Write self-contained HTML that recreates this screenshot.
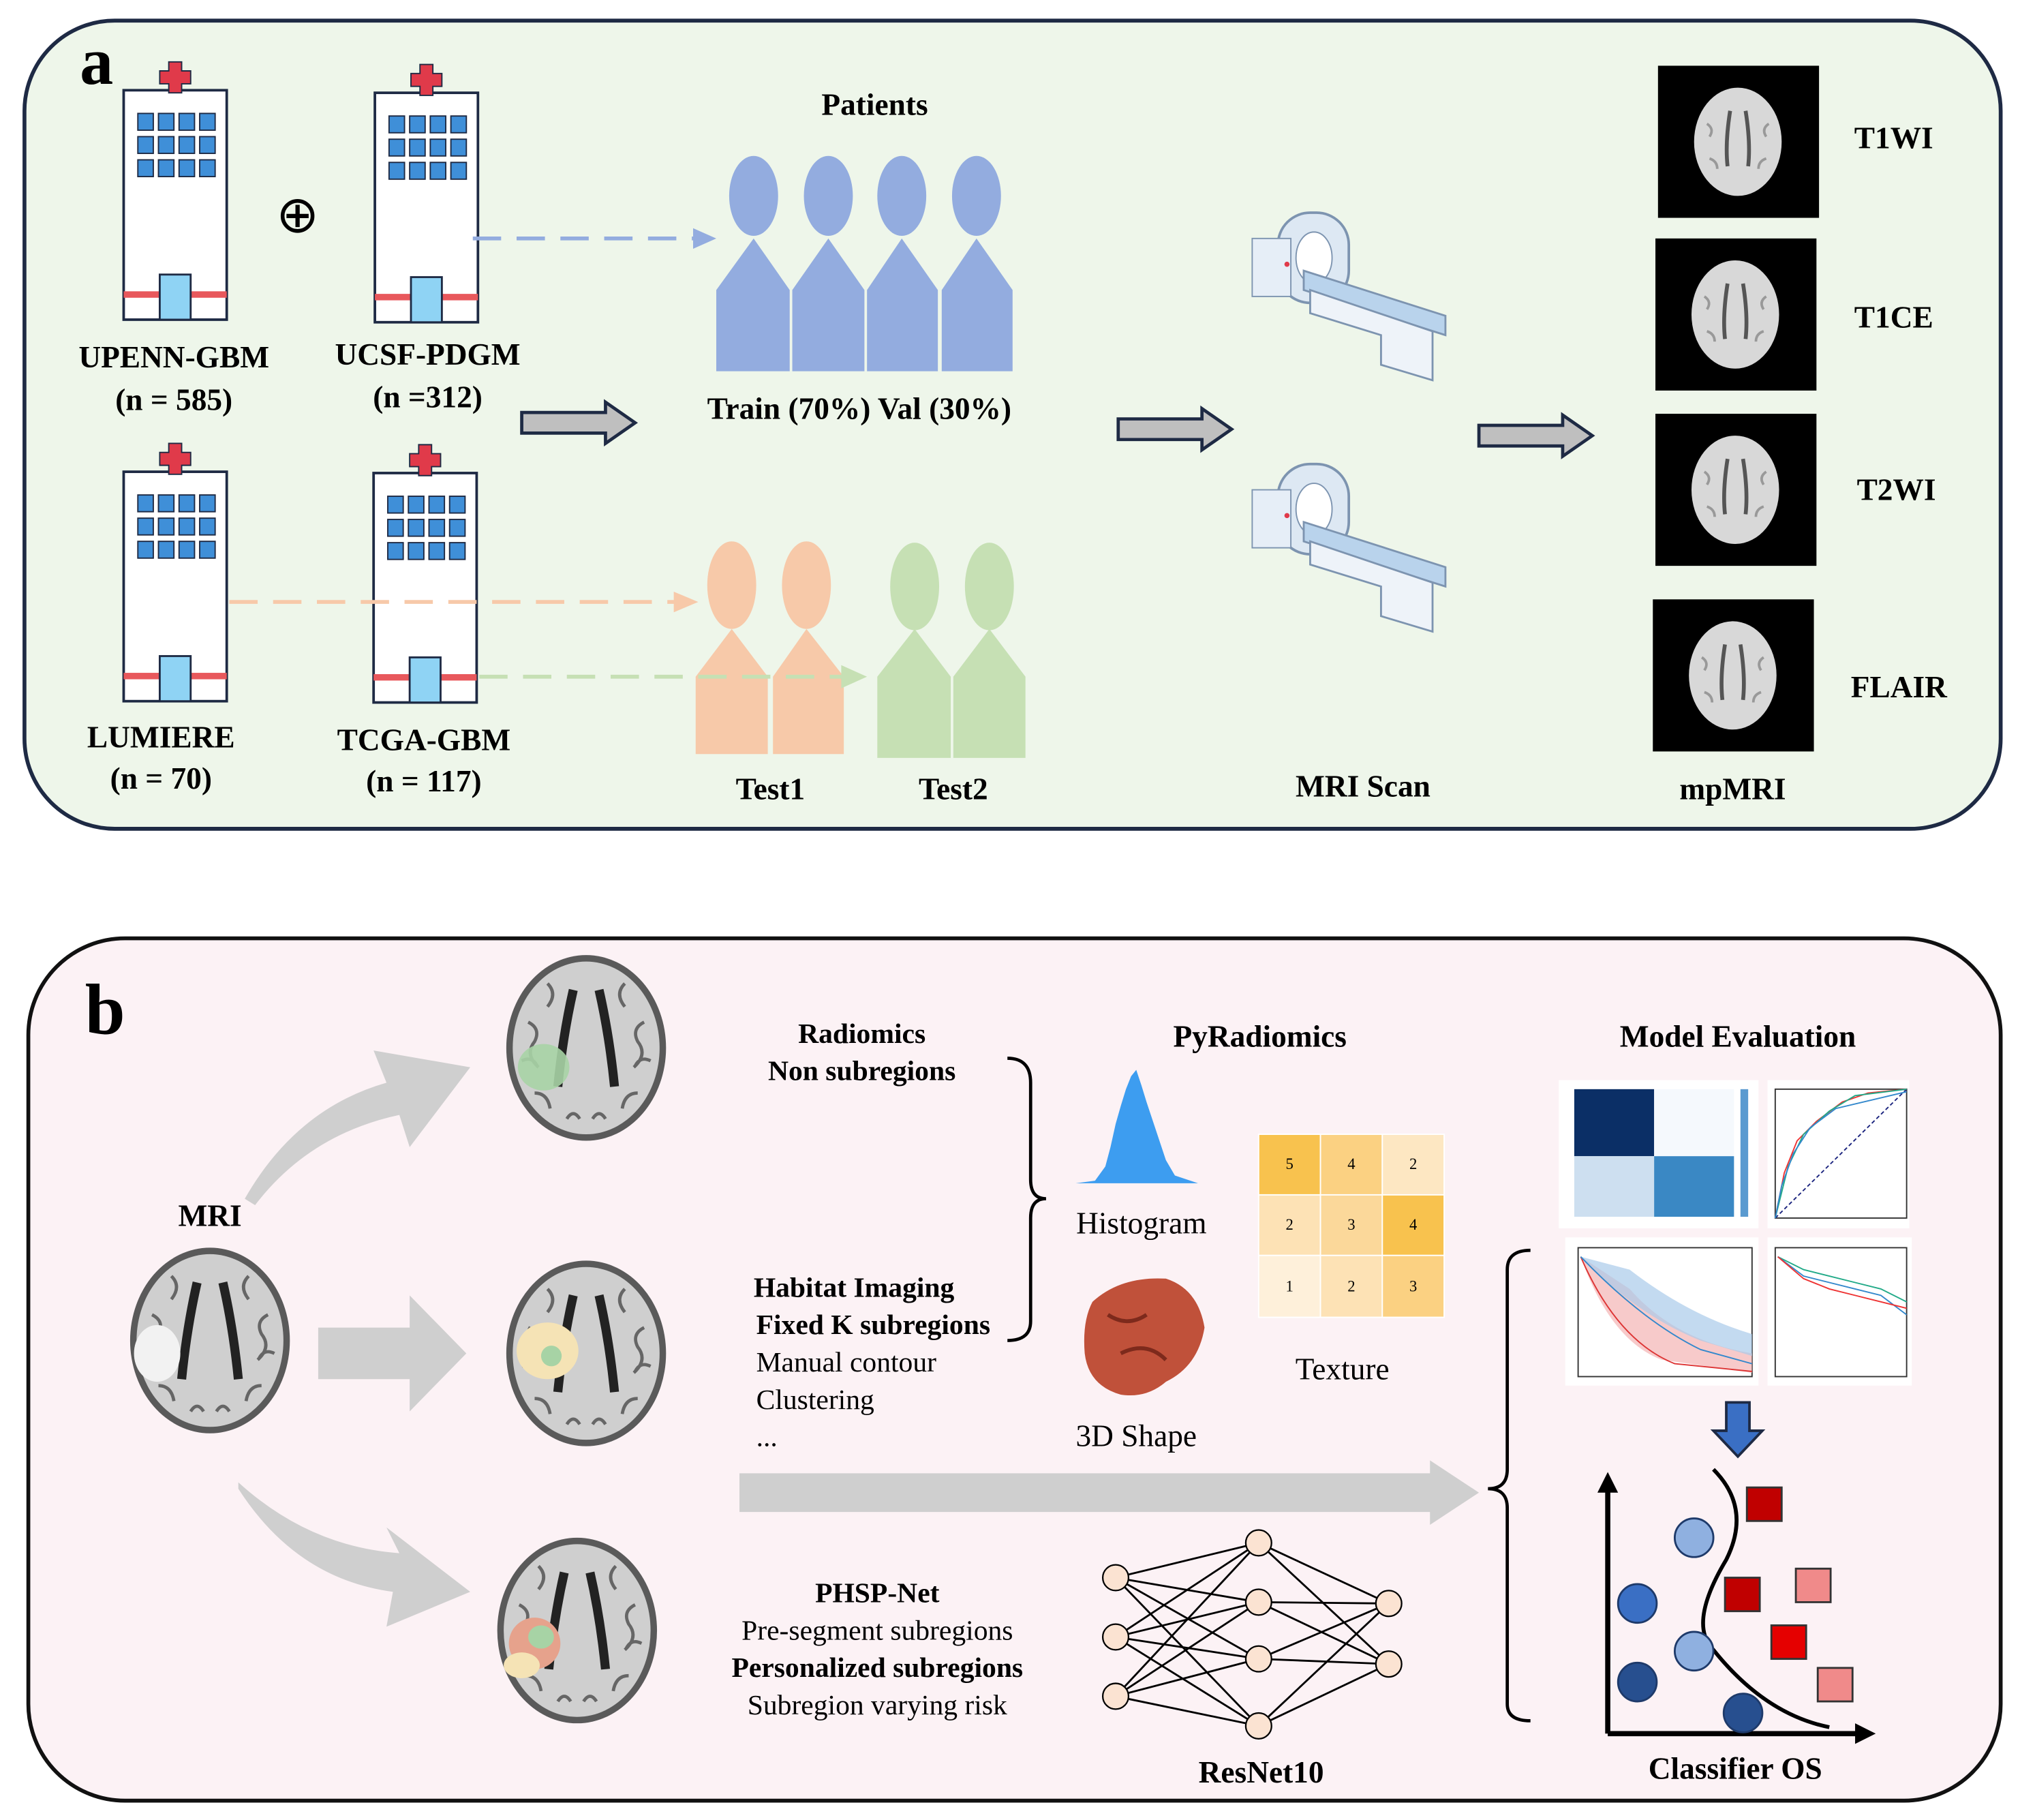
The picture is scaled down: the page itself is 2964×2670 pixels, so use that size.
<!DOCTYPE html>
<html><head><meta charset="utf-8"><style>
html,body{margin:0;padding:0;background:#fff}
svg{display:block}
text{font-family:"Liberation Serif",serif;fill:#000}
.b{font-weight:bold}
</style></head><body>
<svg width="2964" height="2670" viewBox="0 0 1568 1412" preserveAspectRatio="none" xmlns="http://www.w3.org/2000/svg">
<defs>
<g id="hosp">
 <rect x="0" y="0" width="80" height="178" fill="#fff" stroke="#1e2a44" stroke-width="2"/>
 <g fill="#3f8fd8" stroke="#1e2a44" stroke-width="1">
  <rect x="11" y="18" width="12" height="13"/><rect x="27" y="18" width="12" height="13"/><rect x="43" y="18" width="12" height="13"/><rect x="59" y="18" width="12" height="13"/>
  <rect x="11" y="36" width="12" height="13"/><rect x="27" y="36" width="12" height="13"/><rect x="43" y="36" width="12" height="13"/><rect x="59" y="36" width="12" height="13"/>
  <rect x="11" y="54" width="12" height="13"/><rect x="27" y="54" width="12" height="13"/><rect x="43" y="54" width="12" height="13"/><rect x="59" y="54" width="12" height="13"/>
 </g>
 <rect x="0" y="156" width="80" height="5" fill="#e8585c"/>
 <rect x="28" y="143" width="24" height="35" fill="#8fd3f4" stroke="#1e2a44" stroke-width="1.5"/>
 <g fill="#e03a4a" stroke="#1e2a44" stroke-width="1"><path d="M35 -22h10v7h7v10h-7v7h-10v-7h-7v-10h7z"/></g>
</g>
<g id="scanner">
 <rect x="20" y="0" width="55" height="70" rx="25" fill="#dde8f3" stroke="#7d94b0" stroke-width="2"/>
 <ellipse cx="48" cy="35" rx="14" ry="20" fill="#fff" stroke="#7d94b0"/>
 <rect x="0" y="20" width="30" height="45" fill="#e6eef7" stroke="#7d94b0"/>
 <path d="M40 45 L150 80 L150 95 L40 60 Z" fill="#b9d3ec" stroke="#7d94b0" stroke-width="1.5"/>
 <path d="M45 60 L140 92 L140 130 L100 118 L100 95 L45 78 Z" fill="#eef3f9" stroke="#7d94b0" stroke-width="1.5"/>
 <circle cx="27" cy="40" r="2" fill="#e03a4a"/>
</g>
<g id="brain">
 <ellipse cx="0" cy="0" rx="62" ry="72" fill="#5a5a5a"/>
 <ellipse cx="0" cy="0" rx="57" ry="67" fill="#cfcfcf"/>
 <path d="M-10 -45 Q-18 -10 -22 30 M10 -45 Q18 -10 22 30" stroke="#222" stroke-width="7" fill="none"/>
 <path d="M-45 -20 q10 5 5 15 q-8 10 3 20 M45 -20 q-10 5 -5 15 q8 10 -3 20 M-30 -50 q8 8 0 18 M30 -50 q-8 8 0 18 M-40 35 q10 0 12 12 M40 35 q-10 0 -12 12 M-50 10 q8 -4 12 4 M50 10 q-8 -4 -12 4 M-15 55 q5 -8 10 0 M15 55 q-5 -8 -10 0" stroke="#666" stroke-width="2.5" fill="none"/>
</g>
<g id="mr">
 <rect x="0" y="0" width="125" height="118" fill="#000"/>
 <ellipse cx="62" cy="59" rx="34" ry="42" fill="#d8d8d8"/>
 <path d="M56 35 Q52 60 54 78 M68 35 Q72 60 70 78" stroke="#555" stroke-width="3" fill="none"/>
 <path d="M38 45 q6 4 2 10 M86 45 q-6 4 -2 10 M40 72 q6 2 6 8 M84 72 q-6 2 -6 8" stroke="#999" stroke-width="2" fill="none"/>
</g>
<g id="blkarrow">
 <path d="M0 -8 H65 V-16 L88 0 L65 16 V8 H0 Z" fill="#bfbfbf" stroke="#1e2a44" stroke-width="2.5"/>
</g>
</defs>

<!-- Panel a -->
<rect x="19" y="16" width="1534" height="627" rx="70" fill="#eef6ea" stroke="#1e2a44" stroke-width="3"/>
<text x="62" y="65" class="b" font-size="52">a</text>
<use href="#hosp" x="96" y="70"/>
<use href="#hosp" x="291" y="72"/>
<use href="#hosp" x="96" y="366"/>
<use href="#hosp" x="290" y="367"/>
<text x="231" y="180" font-size="40" text-anchor="middle">⊕</text>
<text x="135" y="285" class="b" font-size="24" text-anchor="middle">UPENN-GBM</text>
<text x="135" y="318" class="b" font-size="24" text-anchor="middle">(n = 585)</text>
<text x="332" y="283" class="b" font-size="24" text-anchor="middle">UCSF-PDGM</text>
<text x="332" y="316" class="b" font-size="24" text-anchor="middle">(n =312)</text>
<text x="125" y="580" class="b" font-size="24" text-anchor="middle">LUMIERE</text>
<text x="125" y="612" class="b" font-size="24" text-anchor="middle">(n = 70)</text>
<text x="329" y="582" class="b" font-size="24" text-anchor="middle">TCGA-GBM</text>
<text x="329" y="614" class="b" font-size="24" text-anchor="middle">(n = 117)</text>

<text x="679" y="89" class="b" font-size="24" text-anchor="middle">Patients</text>
<g fill="#93acdf">
 <ellipse cx="585" cy="152" rx="19" ry="31"/><ellipse cx="643" cy="152" rx="19" ry="31"/><ellipse cx="700" cy="152" rx="19" ry="31"/><ellipse cx="758" cy="152" rx="19" ry="31"/>
 <path d="M556 288 V225 L585 185 L613 225 V288 Z"/><path d="M615 288 V225 L643 185 L671 225 V288 Z"/><path d="M673 288 V225 L700 185 L728 225 V288 Z"/><path d="M731 288 V225 L758 185 L786 225 V288 Z"/>
</g>
<g fill="#f7c9a9">
 <ellipse cx="568" cy="454" rx="19" ry="34"/><ellipse cx="626" cy="454" rx="19" ry="34"/>
 <path d="M540 585 V525 L568 488 L596 525 V585 Z"/><path d="M600 585 V525 L626 488 L655 525 V585 Z"/>
</g>
<g fill="#c6e0b4">
 <ellipse cx="710" cy="455" rx="19" ry="34"/><ellipse cx="768" cy="455" rx="19" ry="34"/>
 <path d="M681 588 V525 L710 488 L738 525 V588 Z"/><path d="M740 588 V525 L768 488 L796 525 V588 Z"/>
</g>
<text x="598" y="620" class="b" font-size="24" text-anchor="middle">Test1</text>
<text x="740" y="620" class="b" font-size="24" text-anchor="middle">Test2</text>
<text x="667" y="325" class="b" font-size="24" text-anchor="middle">Train (70%) Val (30%)</text>

<g stroke-width="3" fill="none" stroke-dasharray="22 12">
 <line x1="367" y1="185" x2="538" y2="185" stroke="#93acdf"/>
 <line x1="178" y1="467" x2="525" y2="467" stroke="#f7c9a9"/>
 <line x1="372" y1="525" x2="655" y2="525" stroke="#c6e0b4"/>
</g>
<path d="M538 177 L556 185 L538 193 Z" fill="#93acdf"/>
<path d="M523 459 L542 467 L523 475 Z" fill="#f7c9a9"/>
<path d="M653 516 L673 525 L653 534 Z" fill="#c6e0b4"/>

<use href="#blkarrow" x="405" y="328"/>
<use href="#blkarrow" x="868" y="333"/>
<use href="#blkarrow" x="1148" y="338"/>

<use href="#scanner" x="972" y="165"/>
<use href="#scanner" x="972" y="360"/>
<text x="1058" y="618" class="b" font-size="24" text-anchor="middle">MRI Scan</text>

<use href="#mr" x="1287" y="51"/>
<use href="#mr" x="1285" y="185"/>
<use href="#mr" x="1285" y="321"/>
<use href="#mr" x="1283" y="465"/>
<text x="1470" y="115" class="b" font-size="24" text-anchor="middle">T1WI</text>
<text x="1470" y="254" class="b" font-size="24" text-anchor="middle">T1CE</text>
<text x="1472" y="388" class="b" font-size="24" text-anchor="middle">T2WI</text>
<text x="1474" y="541" class="b" font-size="24" text-anchor="middle">FLAIR</text>
<text x="1345" y="620" class="b" font-size="24" text-anchor="middle">mpMRI</text>

<!-- Panel b -->
<rect x="22" y="728" width="1531" height="669" rx="75" fill="#fcf2f5" stroke="#111" stroke-width="3"/>
<text x="66" y="802" class="b" font-size="56">b</text>
<text x="163" y="951" class="b" font-size="24" text-anchor="middle">MRI</text>
<use href="#brain" x="163" y="1040"/>
<ellipse cx="122" cy="1050" rx="18" ry="22" fill="#f2f2f2"/>
<use href="#brain" x="455" y="813"/>
<ellipse cx="422" cy="828" rx="20" ry="18" fill="#a7d3a5" opacity=".9"/>
<use href="#brain" x="455" y="1050"/>
<ellipse cx="425" cy="1048" rx="24" ry="22" fill="#f5e3b5"/>
<ellipse cx="428" cy="1052" rx="8" ry="8" fill="#a7d3a5"/>
<use href="#brain" x="448" y="1265"/>
<ellipse cx="415" cy="1275" rx="20" ry="20" fill="#e6a28c"/>
<ellipse cx="420" cy="1270" rx="10" ry="9" fill="#a7d3a5"/>
<ellipse cx="405" cy="1292" rx="14" ry="10" fill="#f5e3b5"/>

<!-- gray arrows -->
<path d="M190 930 Q230 860 300 840 L290 815 L365 828 L318 890 L310 865 Q240 880 198 935 Z" fill="#cfcfcf"/>
<path d="M247 1030 H318 V1005 L362 1050 L318 1095 V1070 H247 Z" fill="#cfcfcf"/>
<path d="M185 1150 Q240 1200 310 1205 L300 1185 L365 1235 L300 1262 L305 1235 Q230 1225 185 1155 Z" fill="#cfcfcf"/>
<path d="M574 1143 H1110 V1133 L1148 1158 L1110 1183 V1173 H574 Z" fill="#cfcfcf"/>

<text x="669" y="809" class="b" font-size="22" text-anchor="middle">Radiomics</text>
<text x="669" y="838" class="b" font-size="22" text-anchor="middle">Non subregions</text>
<path d="M782 821 Q800 821 800 840 V915 Q800 930 812 930 Q800 930 800 945 V1025 Q800 1040 782 1040" stroke="#000" stroke-width="2.5" fill="none"/>
<text x="585" y="1006" class="b" font-size="22">Habitat Imaging</text>
<text x="587" y="1035" class="b" font-size="22">Fixed K subregions</text>
<text x="587" y="1064" font-size="22">Manual contour</text>
<text x="587" y="1093" font-size="22">Clustering</text>
<text x="587" y="1122" font-size="22">...</text>

<text x="978" y="812" class="b" font-size="24" text-anchor="middle">PyRadiomics</text>
<g fill="#3d9df0">
 <path d="M835 918 L850 916 L858 905 L862 890 L866 872 L870 858 L874 845 L878 835 L882 830 L886 842 L890 855 L895 870 L900 885 L905 900 L912 912 L930 918 Z"/>
</g>
<text x="886" y="957" font-size="24" text-anchor="middle">Histogram</text>
<g stroke="#fff" stroke-width="1">
 <rect x="977" y="880" width="48" height="47" fill="#f8c24e"/>
 <rect x="1025" y="880" width="48" height="47" fill="#fbd182"/>
 <rect x="1073" y="880" width="48" height="47" fill="#fde7c2"/>
 <rect x="977" y="927" width="48" height="47" fill="#fde2b5"/>
 <rect x="1025" y="927" width="48" height="47" fill="#fbd89a"/>
 <rect x="1073" y="927" width="48" height="47" fill="#f8c24e"/>
 <rect x="977" y="974" width="48" height="48" fill="#fef0da"/>
 <rect x="1025" y="974" width="48" height="48" fill="#fde2b5"/>
 <rect x="1073" y="974" width="48" height="48" fill="#fbd182"/>
</g>
<g font-size="12" text-anchor="middle">
 <text x="1001" y="907" font-family="Liberation Sans,sans-serif">5</text><text x="1049" y="907" font-family="Liberation Sans,sans-serif">4</text><text x="1097" y="907" font-family="Liberation Sans,sans-serif">2</text>
 <text x="1001" y="954" font-family="Liberation Sans,sans-serif">2</text><text x="1049" y="954" font-family="Liberation Sans,sans-serif">3</text><text x="1097" y="954" font-family="Liberation Sans,sans-serif">4</text>
 <text x="1001" y="1002" font-family="Liberation Sans,sans-serif">1</text><text x="1049" y="1002" font-family="Liberation Sans,sans-serif">2</text><text x="1097" y="1002" font-family="Liberation Sans,sans-serif">3</text>
</g>
<text x="1042" y="1070" font-size="24" text-anchor="middle">Texture</text>
<path d="M848 1010 Q870 990 905 992 Q930 1000 935 1030 Q930 1060 905 1072 Q890 1085 870 1082 Q845 1075 842 1050 Q840 1025 848 1010 Z" fill="#c0513a"/>
<path d="M860 1020 q15 10 30 0 M870 1050 q20 -10 35 5" stroke="#7d2a1c" stroke-width="3" fill="none"/>
<text x="882" y="1122" font-size="24" text-anchor="middle">3D Shape</text>

<text x="681" y="1243" class="b" font-size="22" text-anchor="middle">PHSP-Net</text>
<text x="681" y="1272" font-size="22" text-anchor="middle">Pre-segment subregions</text>
<text x="681" y="1301" class="b" font-size="22" text-anchor="middle">Personalized subregions</text>
<text x="681" y="1330" font-size="22" text-anchor="middle">Subregion varying risk</text>

<g stroke="#000" stroke-width="1.5">
 <line x1="866" y1="1224" x2="977" y2="1197"/><line x1="866" y1="1224" x2="977" y2="1243"/><line x1="866" y1="1224" x2="977" y2="1287"/><line x1="866" y1="1224" x2="977" y2="1339"/>
 <line x1="866" y1="1270" x2="977" y2="1197"/><line x1="866" y1="1270" x2="977" y2="1243"/><line x1="866" y1="1270" x2="977" y2="1287"/><line x1="866" y1="1270" x2="977" y2="1339"/>
 <line x1="866" y1="1316" x2="977" y2="1197"/><line x1="866" y1="1316" x2="977" y2="1243"/><line x1="866" y1="1316" x2="977" y2="1287"/><line x1="866" y1="1316" x2="977" y2="1339"/>
 <line x1="977" y1="1197" x2="1078" y2="1244"/><line x1="977" y1="1197" x2="1078" y2="1291"/>
 <line x1="977" y1="1243" x2="1078" y2="1244"/><line x1="977" y1="1243" x2="1078" y2="1291"/>
 <line x1="977" y1="1287" x2="1078" y2="1244"/><line x1="977" y1="1287" x2="1078" y2="1291"/>
 <line x1="977" y1="1339" x2="1078" y2="1244"/><line x1="977" y1="1339" x2="1078" y2="1291"/>
</g>
<g fill="#fbe3d2" stroke="#000" stroke-width="1.2">
 <circle cx="866" cy="1224" r="10"/><circle cx="866" cy="1270" r="10"/><circle cx="866" cy="1316" r="10"/>
 <circle cx="977" cy="1197" r="10"/><circle cx="977" cy="1243" r="10"/><circle cx="977" cy="1287" r="10"/><circle cx="977" cy="1339" r="10"/>
 <circle cx="1078" cy="1244" r="10"/><circle cx="1078" cy="1291" r="10"/>
</g>
<text x="979" y="1383" class="b" font-size="24" text-anchor="middle">ResNet10</text>

<path d="M1188 970 Q1170 970 1170 985 V1140 Q1170 1155 1155 1155 Q1170 1155 1170 1170 V1322 Q1170 1335 1188 1335" stroke="#000" stroke-width="2.5" fill="none"/>

<text x="1349" y="812" class="b" font-size="24" text-anchor="middle">Model Evaluation</text>
<rect x="1210" y="838" width="155" height="115" fill="#fff"/>
<rect x="1222" y="845" width="62" height="52" fill="#0b2f66"/>
<rect x="1284" y="845" width="62" height="52" fill="#f5f9fd"/>
<rect x="1222" y="897" width="62" height="47" fill="#cddff0"/>
<rect x="1284" y="897" width="62" height="47" fill="#3a88c4"/>
<rect x="1351" y="845" width="6" height="99" fill="#5a9ad0"/>
<rect x="1372" y="838" width="110" height="115" fill="#fff"/>
<rect x="1378" y="845" width="102" height="100" fill="none" stroke="#333" stroke-width="1"/>
<line x1="1378" y1="945" x2="1480" y2="845" stroke="#1a237e" stroke-dasharray="3 2"/>
<path d="M1378 945 L1385 910 L1395 885 L1410 870 L1430 855 L1450 848 L1480 845" stroke="#e33" fill="none"/>
<path d="M1378 945 L1388 905 L1400 880 L1420 862 L1440 850 L1480 845" stroke="#2a8" fill="none"/>
<path d="M1378 945 L1383 920 L1392 895 L1405 875 L1425 860 L1480 847" stroke="#38c" fill="none"/>
<rect x="1215" y="960" width="150" height="115" fill="#fff"/>
<rect x="1225" y="968" width="135" height="100" fill="none" stroke="#333" stroke-width="1"/>
<path d="M1227 975 Q1250 1040 1290 1055 L1360 1065 L1360 1050 Q1300 1040 1265 1000 Z" fill="#f4b4b4" opacity=".7"/>
<path d="M1227 975 Q1270 1020 1320 1040 L1360 1052 L1360 1035 Q1310 1020 1265 985 Z" fill="#aacbea" opacity=".7"/>
<path d="M1227 975 Q1255 1040 1300 1058 L1360 1064" stroke="#d33" fill="none"/>
<path d="M1227 975 Q1275 1025 1320 1047 L1360 1058" stroke="#38c" fill="none"/>
<rect x="1372" y="960" width="112" height="115" fill="#fff"/>
<rect x="1378" y="968" width="102" height="100" fill="none" stroke="#333" stroke-width="1"/>
<path d="M1380 975 L1400 985 L1420 990 L1440 995 L1460 1000 L1480 1010" stroke="#2a8" fill="none"/>
<path d="M1380 975 L1400 990 L1420 995 L1440 1000 L1460 1005 L1480 1020" stroke="#38c" fill="none"/>
<path d="M1380 975 L1400 992 L1420 1000 L1440 1005 L1460 1010 L1480 1015" stroke="#e33" fill="none"/>
<path d="M1340 1088 H1358 V1110 H1368 L1349 1130 L1330 1110 H1340 Z" fill="#3a6fc4" stroke="#1e2a44" stroke-width="2"/>

<path d="M1248 1345 V1150 M1248 1345 H1448" stroke="#000" stroke-width="4" fill="none"/>
<path d="M1240 1158 L1248 1142 L1256 1158 Z M1440 1337 L1456 1345 L1440 1353 Z" fill="#000"/>
<path d="M1330 1140 Q1360 1170 1340 1210 Q1310 1260 1330 1280 Q1370 1330 1420 1340" stroke="#000" stroke-width="3" fill="none"/>
<g stroke="#1e3a6a" stroke-width="1.5">
 <circle cx="1315" cy="1193" r="15" fill="#8fb0e0"/>
 <circle cx="1271" cy="1244" r="15" fill="#3a6fc4"/>
 <circle cx="1315" cy="1281" r="15" fill="#8fb0e0"/>
 <circle cx="1271" cy="1305" r="15" fill="#274f8f"/>
 <circle cx="1353" cy="1329" r="15" fill="#274f8f"/>
</g>
<g stroke="#333" stroke-width="1.5">
 <rect x="1356" y="1154" width="27" height="26" fill="#c00000"/>
 <rect x="1339" y="1224" width="27" height="26" fill="#c00000"/>
 <rect x="1394" y="1217" width="27" height="26" fill="#f08a8a"/>
 <rect x="1375" y="1261" width="27" height="26" fill="#e50000"/>
 <rect x="1411" y="1294" width="27" height="26" fill="#f08a8a"/>
</g>
<text x="1347" y="1380" class="b" font-size="24" text-anchor="middle">Classifier OS</text>
</svg>
</body></html>
